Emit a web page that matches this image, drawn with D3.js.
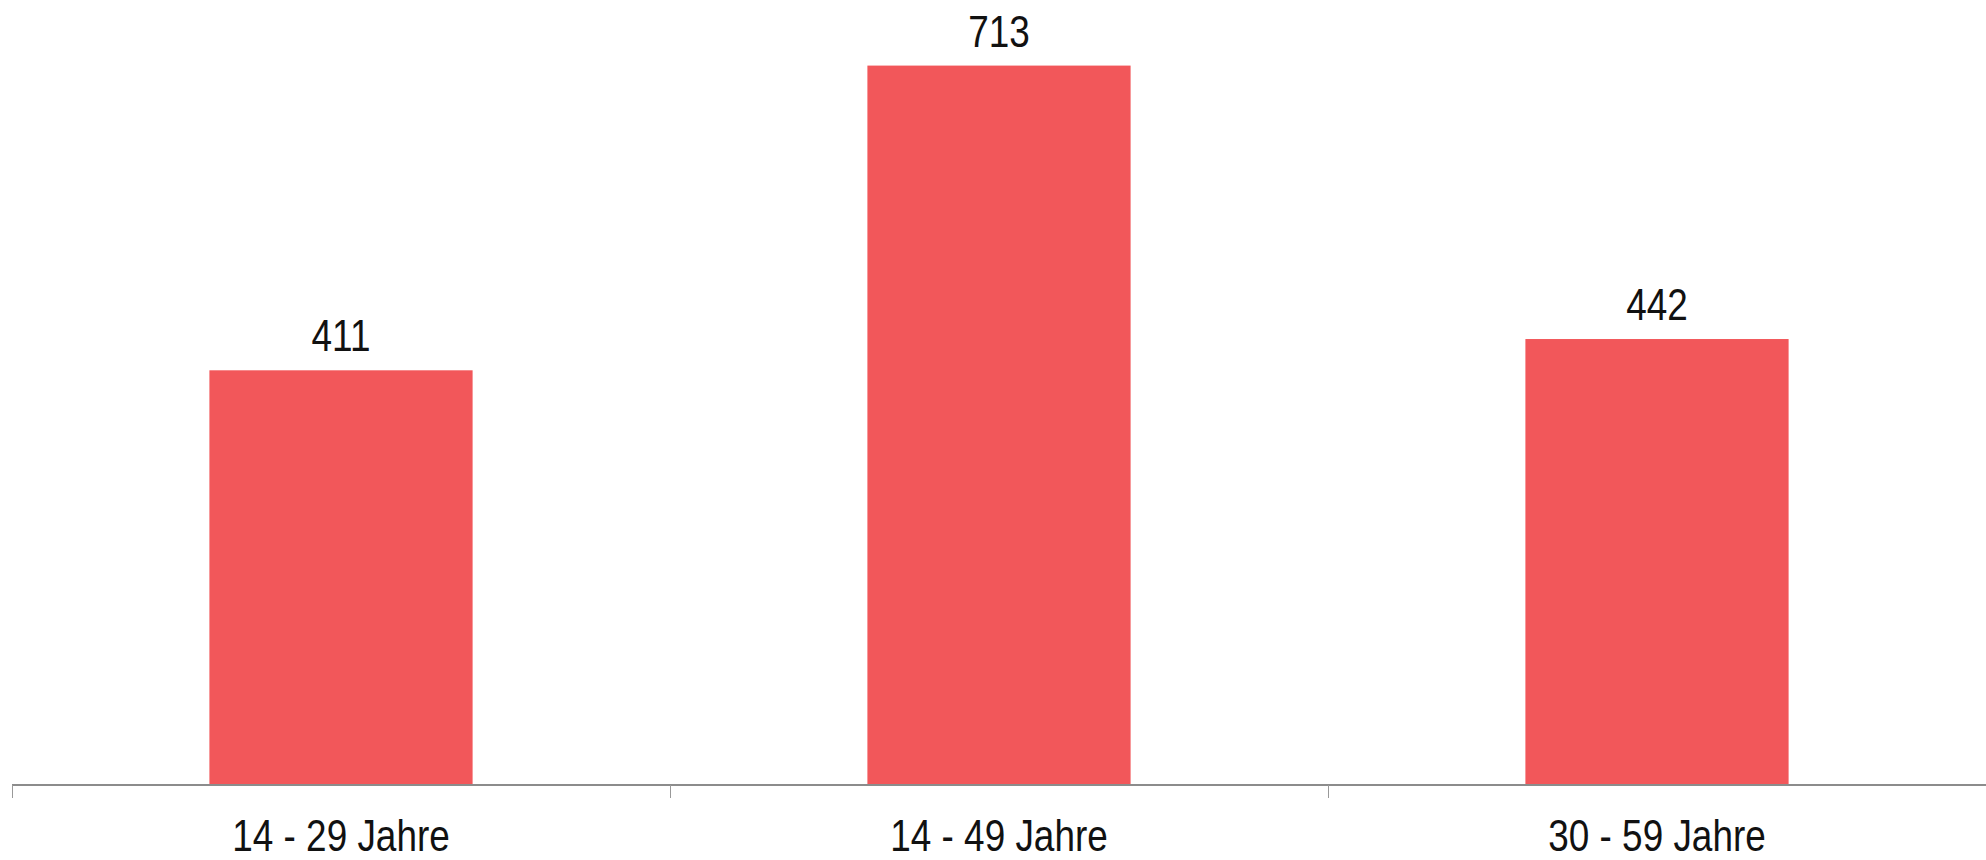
<!DOCTYPE html>
<html>
<head>
<meta charset="utf-8">
<script src="https://cdn.jsdelivr.net/npm/d3@7/dist/d3.min.js"></script>
<style>
  html, body { margin: 0; padding: 0; background: #fff; }
  svg { display: block; }
  text { font-family: "Liberation Sans", Arial, sans-serif; }
</style>
</head>
<body>
<svg id="chart" width="1986" height="860"></svg>
<script>
const categories = ["14 - 29 Jahre", "14 - 49 Jahre", "30 - 59 Jahre"];
const values = [411, 713, 442];
const yMax = 778;

const W = 1986, H = 860;
const axisY = 785;
const narrow = 0.82;
const svg = d3.select("#chart");

const x = d3.scaleBand().domain(categories).range([12, W]).paddingInner(0).paddingOuter(0);
const y = d3.scaleLinear().domain([0, yMax]).range([axisY, 0]);

const barFrac = 0.4;
const bw = x.bandwidth() * barFrac;
const off = (x.bandwidth() - bw) / 2;

function condense(sel) {
  sel.each(function () {
    const w = this.getComputedTextLength();
    d3.select(this).attr("textLength", w * narrow).attr("lengthAdjust", "spacingAndGlyphs");
  });
}

// bars
svg.append("g").selectAll("rect")
  .data(categories)
  .join("rect")
  .attr("x", d => x(d) + off)
  .attr("width", bw)
  .attr("y", (d, i) => y(values[i]))
  .attr("height", (d, i) => axisY - y(values[i]))
  .attr("fill", "#F2575A");

// value labels
svg.append("g").selectAll("text")
  .data(categories)
  .join("text")
  .attr("x", d => x(d) + x.bandwidth() / 2)
  .attr("y", (d, i) => y(values[i]) - 19)
  .attr("text-anchor", "middle")
  .attr("font-size", 45)
  .attr("fill", "#111")
  .text((d, i) => values[i])
  .call(condense);

// axis
const axis = d3.axisBottom(x).tickSize(0).tickPadding(0);
const ag = svg.append("g").attr("transform", `translate(0,${axisY})`).call(axis);
ag.select(".domain").attr("stroke", "#8c8c8c").attr("stroke-width", 2).attr("d", `M12,0H${W}`);
ag.selectAll(".tick line").remove();
ag.attr("font-family", null).attr("font-size", null);
ag.selectAll(".tick text")
  .attr("y", 66)
  .attr("dy", 0)
  .attr("font-size", 45)
  .attr("fill", "#111")
  .call(condense);

// boundary ticks
svg.append("g").selectAll("line")
  .data(categories)
  .join("line")
  .attr("x1", d => Math.round(x(d)) + 0.5)
  .attr("x2", d => Math.round(x(d)) + 0.5)
  .attr("y1", axisY)
  .attr("y2", axisY + 13)
  .attr("stroke", "#999")
  .attr("stroke-width", 1);
</script>
</body>
</html>
